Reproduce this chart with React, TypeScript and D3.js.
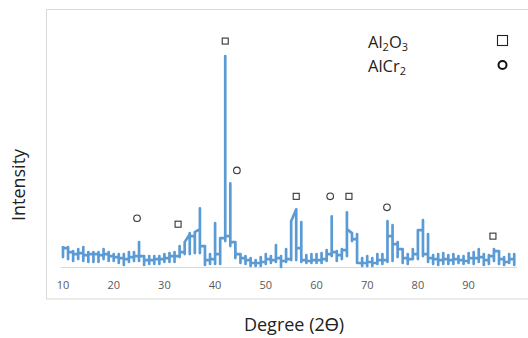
import React from "react";
import * as d3 from "d3";

const degrees: number[] = d3.range(10, 100);
// per-degree max intensity
const highs: number[] = [
  20, 19, 15, 17, 19, 14, 14, 14, 17, 14,
  12, 12, 12, 14, 14, 24, 10, 10, 10, 10,
  12, 13, 14, 20, 24, 33, 34, 58, 20, 12,
  43, 28, 211, 83, 22, 12, 10, 8, 6, 9,
  12, 10, 21, 10, 17, 45, 57, 44, 11, 12,
  12, 13, 16, 50, 15, 17, 54, 33, 32, 8,
  10, 8, 12, 12, 45, 41, 24, 17, 12, 17,
  35, 46, 32, 11, 12, 13, 11, 12, 10, 10,
  13, 14, 17, 12, 11, 17, 15, 9, 12, 12,
];
// per-degree min intensity
const lows: number[] = [
  9, 7, 5, 7, 5, 4, 4, 4, 7, 5,
  5, 3, 1, 4, 5, 5, 1, 2, 2, 2,
  4, 4, 4, 9, 12, 12, 13, 13, 1, 2,
  2, 2, 25, 20, 8, 3, 2, 0, 0, 0,
  2, 3, 4, -1, 4, 6, 6, 4, 3, 3,
  3, 3, 5, 10, 5, 7, 10, 25, 3, 0,
  0, 0, 2, 2, 4, 5, 9, 3, 2, 7,
  7, 10, 4, 2, 1, 2, 2, 2, 3, 2,
  3, 2, 4, 1, 2, 5, 2, 1, 3, 1,
];
// level at which the trace leaves each degree
const exits: number[] = [
  18, 14, 12, 13, 11, 12, 12, 11, 12, 10,
  9, 8, 7, 9, 10, 10, 6, 6, 7, 7,
  8, 10, 10, 14, 24, 30, 34, 20, 6, 7,
  12, 28, 30, 24, 12, 8, 6, 3, 3, 4,
  7, 6, 8, 5, 7, 45, 18, 6, 5, 6,
  6, 7, 12, 14, 11, 16, 37, 27, 3, 3,
  4, 3, 6, 6, 30, 22, 17, 8, 7, 12,
  36, 12, 8, 7, 6, 7, 6, 7, 6, 5,
  8, 8, 9, 6, 10, 15, 7, 4, 7, 8,
];
// degrees where the trace arrives at a different level (sloped joins)
const slopedEntries: [number, number][] = [
  [35, 32],
  [37, 37],
  [56, 57],
  [67, 33],
];

const al2o3Peaks: [number, number][] = [
  [42, 226], [32.7, 42], [56, 70], [66.4, 70], [94.8, 30],
];
const alcr2Peaks: [number, number][] = [
  [44.3, 96], [24.6, 48], [62.7, 70], [73.9, 59],
];
const xTicks: number[] = [10, 20, 30, 40, 50, 60, 70, 80, 90];

const W = 528;
const H = 338;

export default function App() {
  const x = d3.scaleLinear().domain([10, 100]).range([63, 519.3]);
  const y = d3.scaleLinear().domain([0, 211]).range([266, 56]);

  const entryMap = new Map<number, number>(slopedEntries);
  const pts: [number, number][] = [];
  degrees.forEach((d, i) => {
    const enter = entryMap.has(d) ? (entryMap.get(d) as number) : i > 0 ? exits[i - 1] : highs[i];
    pts.push([d, enter]);
    pts.push([d, highs[i]]);
    pts.push([d, lows[i]]);
    pts.push([d, exits[i]]);
  });
  const line = d3
    .line<[number, number]>()
    .x((p) => x(p[0]))
    .y((p) => y(p[1]));

  const font = "'Open Sans', 'Liberation Sans', sans-serif";

  return (
    <svg
      width={W}
      height={H}
      style={{ position: "absolute", left: 0, top: 0, background: "#fff" }}
      fontFamily={font}
    >
      <rect x={0} y={0} width={W} height={H} fill="#fff" />
      <rect x={46.5} y={9.5} width={500} height={289.5} fill="none" stroke="#d9d9d9" strokeWidth={1} />
      <line x1={61} x2={517} y1={267.5} y2={267.5} stroke="#d9d9d9" strokeWidth={1} />
      {xTicks.map((t) => (
        <text key={t} x={x(t)} y={289} fontSize={11} fill="#595959" textAnchor="middle">
          {t}
        </text>
      ))}
      <path
        d={line(pts) || ""}
        fill="none"
        stroke="#5b9bd5"
        strokeWidth={2.7}
        strokeLinejoin="round"
      />
      {al2o3Peaks.map(([d, v], i) => (
        <rect
          key={"s" + i}
          x={x(d) - 3}
          y={y(v) - 3}
          width={6}
          height={6}
          fill="none"
          stroke="#333"
          strokeWidth={1.1}
        />
      ))}
      {alcr2Peaks.map(([d, v], i) => (
        <circle key={"c" + i} cx={x(d)} cy={y(v)} r={3.3} fill="none" stroke="#333" strokeWidth={1.1} />
      ))}
      <text x={368} y={48} fontSize={16.5} fill="#222">
        Al<tspan fontSize={11} dy={3}>2</tspan>
        <tspan dy={-3}>O</tspan>
        <tspan fontSize={11} dy={3}>3</tspan>
      </text>
      <text x={368} y={72} fontSize={16.5} fill="#222">
        AlCr<tspan fontSize={11} dy={3}>2</tspan>
      </text>
      <rect x={497.5} y={35.5} width={10} height={10} fill="none" stroke="#222" strokeWidth={1.1} />
      <circle cx={502.5} cy={65} r={4} fill="none" stroke="#111" strokeWidth={2} />
      <text
        transform="translate(25,185) rotate(-90)"
        fontSize={18}
        fill="#222"
        textAnchor="middle"
      >
        Intensity
      </text>
      <text x={294} y={331} fontSize={18} fill="#222" textAnchor="middle">
        Degree (2Ɵ)
      </text>
    </svg>
  );
}
